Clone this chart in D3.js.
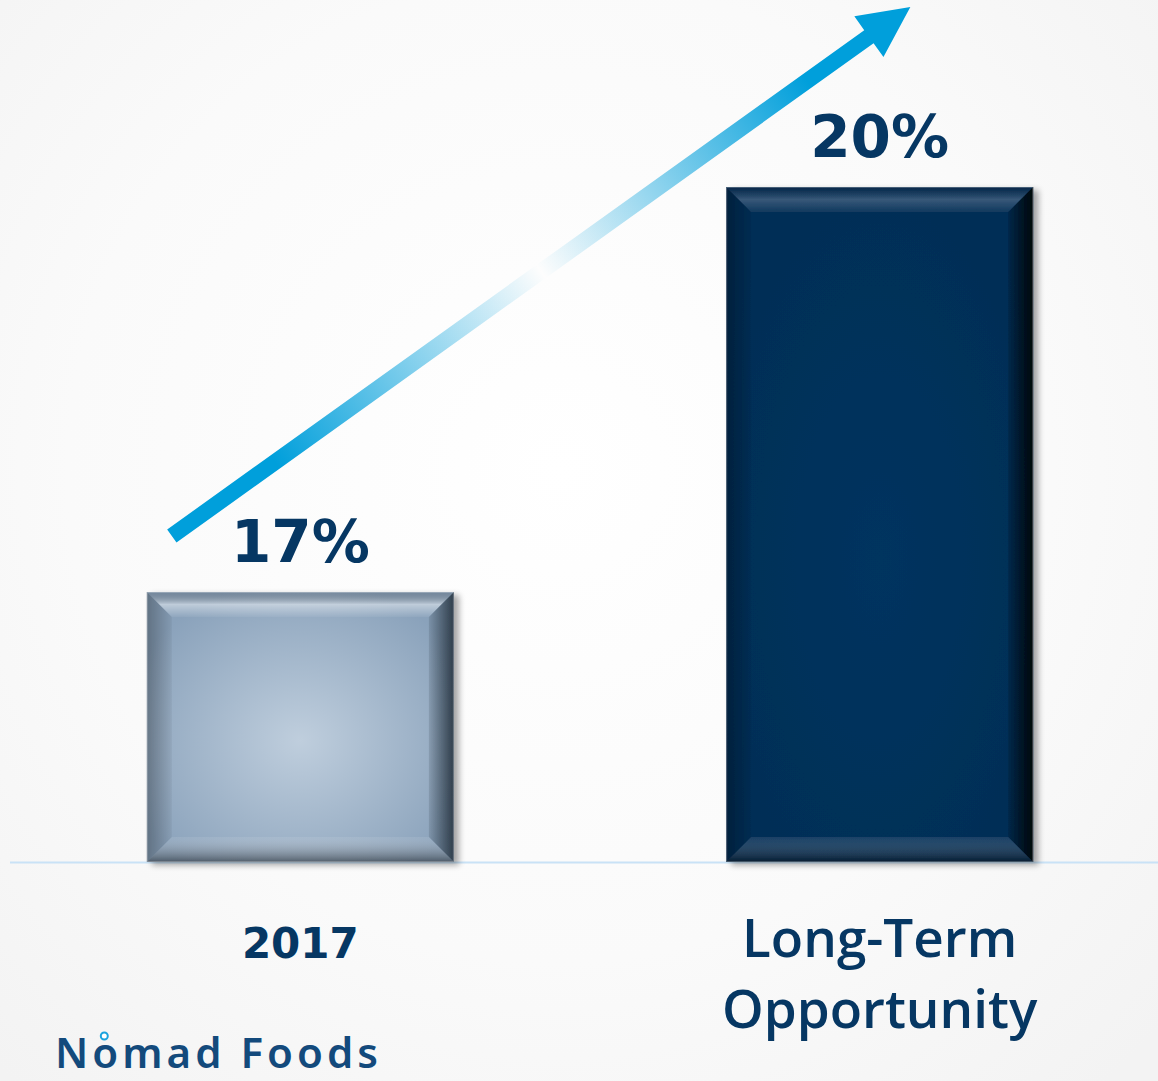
<!DOCTYPE html>
<html>
<head>
<meta charset="utf-8">
<script src="https://cdn.jsdelivr.net/npm/d3@7"></script>
<style>
  html, body { margin: 0; padding: 0; background: #fafafa; }
  svg { display: block; }
</style>
</head>
<body>
<div id="chart"></div>
<script>
const categories = ['2017', 'Long-Term Opportunity']
const values = [17, 20]
const valueLabels = ['17%', '20%']
const yDomain = [15, 20]

const WIDTH = 1158
const HEIGHT = 1081
const BASELINE = 862
const BEVEL = 25
const TEXT_COLOR = '#063763'

// per-bar look: face gradient (centre, edge) and strength of the top highlight
const barStyles = [
  { centre: '#bfcedd', edge: '#8aa2bb', shine: 0.45, rim: '#24313d' },
  { centre: '#06345f', edge: '#052e56', shine: 0.2, rim: '#000000' },
]

const svg = d3.select('#chart').append('svg').attr('width', WIDTH).attr('height', HEIGHT)
const defs = svg.append('defs')

// soft background glow
const bg = defs.append('radialGradient').attr('id', 'bg')
  .attr('gradientUnits', 'userSpaceOnUse').attr('cx', 560).attr('cy', 470).attr('r', 820)
bg.append('stop').attr('offset', 0).attr('stop-color', '#ffffff')
bg.append('stop').attr('offset', 0.6).attr('stop-color', '#fafafa')
bg.append('stop').attr('offset', 1).attr('stop-color', '#f3f3f3')
svg.append('rect').attr('width', WIDTH).attr('height', HEIGHT).attr('fill', 'url(#bg)')

const x = d3.scaleBand().domain(categories).range([2, 1178]).paddingInner(0.47).paddingOuter(0.25)
const y = d3.scaleLinear().domain(yDomain).range([BASELINE, 187])

// baseline
svg.append('line')
  .attr('x1', 10).attr('x2', WIDTH).attr('y1', BASELINE + 0.5).attr('y2', BASELINE + 0.5)
  .attr('stroke', '#c9e2f6').attr('stroke-width', 2)

// shadow
const shadow = defs.append('filter').attr('id', 'shadow').attr('x', '-10%').attr('y', '-10%').attr('width', '130%').attr('height', '130%')
shadow.append('feGaussianBlur').attr('in', 'SourceAlpha').attr('stdDeviation', 3)
shadow.append('feOffset').attr('dx', 5).attr('dy', 3).attr('result', 'off')
shadow.append('feComponentTransfer').append('feFuncA').attr('type', 'linear').attr('slope', 0.35)
const merge = shadow.append('feMerge')
merge.append('feMergeNode')
merge.append('feMergeNode').attr('in', 'SourceGraphic')

barStyles.forEach((s, i) => {
  const face = defs.append('radialGradient').attr('id', `face${i}`).attr('cx', 0.5).attr('cy', 0.55).attr('r', 0.6)
  face.append('stop').attr('offset', 0).attr('stop-color', s.centre)
  face.append('stop').attr('offset', 1).attr('stop-color', s.edge)

  const top = defs.append('linearGradient').attr('id', `top${i}`).attr('x1', 0).attr('y1', 0).attr('x2', 0).attr('y2', 1)
  top.append('stop').attr('offset', 0).attr('stop-color', '#000').attr('stop-opacity', 0.15)
  top.append('stop').attr('offset', 0.5).attr('stop-color', '#fff').attr('stop-opacity', s.shine)
  top.append('stop').attr('offset', 1).attr('stop-color', '#fff').attr('stop-opacity', 0.05)

  const right = defs.append('linearGradient').attr('id', `right${i}`).attr('x1', 0).attr('y1', 0).attr('x2', 1).attr('y2', 0)
  right.append('stop').attr('offset', 0).attr('stop-color', s.rim).attr('stop-opacity', 0.15)
  right.append('stop').attr('offset', 1).attr('stop-color', s.rim).attr('stop-opacity', 0.9)

  const bottom = defs.append('linearGradient').attr('id', `bottom${i}`).attr('x1', 0).attr('y1', 0).attr('x2', 0).attr('y2', 1)
  bottom.append('stop').attr('offset', 0).attr('stop-color', '#fff').attr('stop-opacity', 0.08)
  bottom.append('stop').attr('offset', 1).attr('stop-color', '#000').attr('stop-opacity', 0.45)

  const left = defs.append('linearGradient').attr('id', `left${i}`).attr('x1', 0).attr('y1', 0).attr('x2', 1).attr('y2', 0)
  left.append('stop').attr('offset', 0).attr('stop-color', '#000').attr('stop-opacity', 0.3)
  left.append('stop').attr('offset', 1).attr('stop-color', '#000').attr('stop-opacity', 0.05)
})

const bars = svg.selectAll('g.bar')
  .data(categories.map((c, i) => ({ c, v: values[i], i })))
  .join('g')
  .attr('class', 'bar')
  .attr('filter', 'url(#shadow)')

bars.each(function (d) {
  const g = d3.select(this)
  const x0 = x(d.c)
  const x1 = x0 + x.bandwidth()
  const y0 = y(d.v)
  const y1 = y(yDomain[0])
  const b = BEVEL
  g.append('rect')
    .attr('x', x0).attr('y', y0).attr('width', x1 - x0).attr('height', y1 - y0)
    .attr('fill', `url(#face${d.i})`)
  const poly = (pts, fill) => g.append('path').attr('d', 'M' + pts.map((p) => p.join(',')).join('L') + 'Z').attr('fill', fill)
  poly([[x0, y0], [x1, y0], [x1 - b, y0 + b], [x0 + b, y0 + b]], `url(#top${d.i})`)
  poly([[x1, y0], [x1, y1], [x1 - b, y1 - b], [x1 - b, y0 + b]], `url(#right${d.i})`)
  poly([[x0, y1], [x0 + b, y1 - b], [x1 - b, y1 - b], [x1, y1]], `url(#bottom${d.i})`)
  poly([[x0, y0], [x0 + b, y0 + b], [x0 + b, y1 - b], [x0, y1]], `url(#left${d.i})`)
  g.append('rect')
    .attr('x', x0 + 0.5).attr('y', y0 + 0.5).attr('width', x1 - x0 - 1).attr('height', y1 - y0 - 1)
    .attr('fill', 'none').attr('stroke', '#ffffff').attr('stroke-opacity', 0.25)
})

// value labels
svg.selectAll('text.value')
  .data(values)
  .join('text')
  .attr('class', 'value')
  .attr('x', (d, i) => x(categories[i]) + x.bandwidth() / 2)
  .attr('y', (d) => y(d) - 30)
  .attr('text-anchor', 'middle')
  .attr('fill', TEXT_COLOR)
  .attr('font-family', 'DejaVu Sans')
  .attr('font-weight', 'bold')
  .attr('font-size', 58)
  .text((d, i) => valueLabels[i])

// category labels
svg.selectAll('text.cat')
  .data(categories)
  .join('text')
  .attr('class', 'cat')
  .attr('x', (d) => x(d) + x.bandwidth() / 2)
  .attr('y', (d, i) => (i === 0 ? 958 : 957))
  .attr('text-anchor', 'middle')
  .attr('fill', TEXT_COLOR)
  .attr('font-family', (d, i) => (i === 0 ? 'DejaVu Sans' : 'Open Sans'))
  .attr('font-weight', (d, i) => (i === 0 ? 'bold' : 600))
  .attr('font-size', (d, i) => (i === 0 ? 42 : 53))
  .each(function (d, i) {
    const words = i === 0 ? [d] : ['Long-Term', 'Opportunity']
    d3.select(this).selectAll('tspan').data(words).join('tspan')
      .attr('x', x(d) + x.bandwidth() / 2)
      .attr('dy', (w, j) => (j === 0 ? 0 : 71))
      .text((w) => w)
  })

// growth arrow, from above the first bar to above the second
const start = [x(categories[0]) + 25, y(values[0]) - 56]
const tip = [x(categories[1]) + x.bandwidth() * 0.6, 7]
const L = Math.hypot(tip[0] - start[0], tip[1] - start[1])
const angle = (Math.atan2(tip[1] - start[1], tip[0] - start[0]) * 180) / Math.PI
const shaftW = 16
const headL = 51
const headW = 25

const ag = defs.append('linearGradient').attr('id', 'arrowGrad')
  .attr('gradientUnits', 'userSpaceOnUse').attr('x1', 0).attr('y1', 0).attr('x2', L).attr('y2', 0)
;[[0, 1], [0.14, 1], [0.5, 0], [0.86, 1], [1, 1]].forEach(([o, a]) => {
  ag.append('stop').attr('offset', o).attr('stop-color', '#009fdb').attr('stop-opacity', a)
})

const arrowPath = d3.path()
arrowPath.moveTo(0, -shaftW / 2)
arrowPath.lineTo(L - headL, -shaftW / 2)
arrowPath.lineTo(L - headL, -headW)
arrowPath.lineTo(L, 0)
arrowPath.lineTo(L - headL, headW)
arrowPath.lineTo(L - headL, shaftW / 2)
arrowPath.lineTo(0, shaftW / 2)
arrowPath.closePath()

svg.append('path')
  .attr('transform', `translate(${start[0]},${start[1]}) rotate(${angle})`)
  .attr('d', arrowPath.toString())
  .attr('fill', 'url(#arrowGrad)')

// logo
const logo = svg.append('text')
  .attr('x', 55).attr('y', 1068)
  .attr('fill', '#134a7c')
  .attr('font-family', 'Noto Sans')
  .attr('font-weight', 600)
  .attr('font-size', 42)
  .attr('textLength', 323)
  .attr('lengthAdjust', 'spacing')
  .text('Nomad Foods')
const n = logo.node()
const oBox = n.getExtentOfChar(1)
svg.append('circle')
  .attr('cx', oBox.x + oBox.width / 2 - 1)
  .attr('cy', 1036)
  .attr('r', 3.5)
  .attr('fill', '#ffffff')
  .attr('stroke', '#1ba3de')
  .attr('stroke-width', 2)
</script>
</body>
</html>
